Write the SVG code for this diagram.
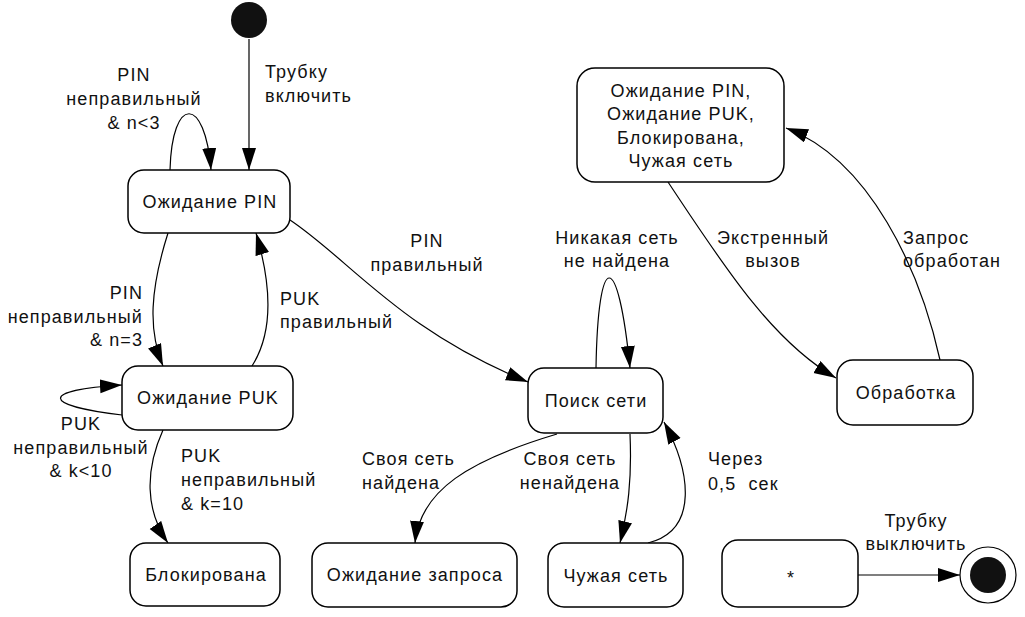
<svg xmlns="http://www.w3.org/2000/svg" width="1025" height="617" viewBox="0 0 1025 617">
<style>
.n{fill:#fff;stroke:#000;stroke-width:1.5}
.t{font-family:"Liberation Sans",Arial,sans-serif;font-size:18px;letter-spacing:1.1px;fill:#111}
.c{text-anchor:middle}
.r{text-anchor:end}
.e{fill:none;stroke:#000;stroke-width:1.2}
</style>
<defs>
<marker id="a" markerUnits="userSpaceOnUse" markerWidth="24" markerHeight="16" refX="22" refY="7" orient="auto">
<path d="M0,0 L22,7 L0,14 z" fill="#000"/>
</marker>
</defs>
<rect width="1025" height="617" fill="#fff"/>
<g id="connectors">
<path class="e" d="M249,39 L249,170" marker-end="url(#a)"/>
<path class="e" d="M170,170 C172,95 205,95 211,170" marker-end="url(#a)"/>
<path class="e" d="M168,233 C150,290 148,330 163,366" marker-end="url(#a)"/>
<path class="e" d="M252,366 C275,330 270,280 256,233" marker-end="url(#a)"/>
<path class="e" d="M122,415 C40,405 40,390 122,385" marker-end="url(#a)"/>
<path class="e" d="M163,430 C145,470 145,510 168,543" marker-end="url(#a)"/>
<path class="e" d="M290,220 C350,260 400,330 528,382" marker-end="url(#a)"/>
<path class="e" d="M596,368 C598,248 618,248 630,368" marker-end="url(#a)"/>
<path class="e" d="M557,434 C470,460 420,490 415,543" marker-end="url(#a)"/>
<path class="e" d="M630,434 C632,480 628,510 620,543" marker-end="url(#a)"/>
<path class="e" d="M648,543 C700,530 690,470 664,422" marker-end="url(#a)"/>
<path class="e" d="M668,182 C720,260 770,340 836,378" marker-end="url(#a)"/>
<path class="e" d="M940,360 C920,270 870,160 786,128" marker-end="url(#a)"/>
<path class="e" d="M858,575 L960,575" marker-end="url(#a)"/>
</g>
<g id="labels" class="t">
<text x="265" y="78">Трубку</text>
<text x="265" y="102">включить</text>
<text class="c" x="134" y="81">PIN</text>
<text class="c" x="134" y="105">неправильный</text>
<text class="c" x="134" y="129">&amp; n&lt;3</text>
<text class="c" x="427" y="247">PIN</text>
<text class="c" x="427" y="271">правильный</text>
<text class="r" x="143" y="299">PIN</text>
<text class="r" x="143" y="323">неправильный</text>
<text class="r" x="143" y="346">&amp; n=3</text>
<text x="280" y="305">PUK</text>
<text x="280" y="328">правильный</text>
<text class="c" x="81" y="430">PUK</text>
<text class="c" x="81" y="454">неправильный</text>
<text class="c" x="81" y="477">&amp; k&lt;10</text>
<text x="181" y="462">PUK</text>
<text x="181" y="486">неправильный</text>
<text x="181" y="510">&amp; k=10</text>
<text x="362" y="465">Своя сеть</text>
<text x="362" y="489">найдена</text>
<text class="c" x="570" y="465">Своя сеть</text>
<text class="c" x="570" y="489">ненайдена</text>
<text class="c" x="617" y="244">Никакая сеть</text>
<text class="c" x="617" y="267">не найдена</text>
<text x="708" y="465">Через</text>
<text x="708" y="490" xml:space="preserve">0,5  сек</text>
<text class="c" x="916" y="527">Трубку</text>
<text class="c" x="916" y="550">выключить</text>
<text class="c" x="773" y="244">Экстренный</text>
<text class="c" x="773" y="267">вызов</text>
<text x="903" y="244">Запрос</text>
<text x="903" y="267">обработан</text>
</g>
<g id="initial"><circle cx="249" cy="20" r="18" fill="#111"/></g>
<g id="pin"><rect class="n" x="128" y="170" width="162" height="63" rx="16"/><text class="t c" x="210" y="208">Ожидание PIN</text></g>
<g id="puk"><rect class="n" x="122" y="366" width="171" height="64" rx="16"/><text class="t c" x="208" y="404">Ожидание PUK</text></g>
<g id="blocked"><rect class="n" x="130" y="543" width="150" height="63" rx="16"/><text class="t c" x="206" y="581">Блокирована</text></g>
<g id="waitreq"><rect class="n" x="312" y="543" width="205" height="64" rx="16"/><text class="t c" x="415" y="581">Ожидание запроса</text></g>
<g id="foreign"><rect class="n" x="548" y="543" width="135" height="64" rx="16"/><text class="t c" x="616" y="582">Чужая сеть</text></g>
<g id="search"><rect class="n" x="528" y="368" width="135" height="65" rx="16"/><text class="t c" x="596" y="407">Поиск сети</text></g>
<g id="group"><rect class="n" x="577" y="68" width="207" height="114" rx="18"/>
<text class="t c" x="681" y="97">Ожидание PIN,</text>
<text class="t c" x="681" y="120">Ожидание PUK,</text>
<text class="t c" x="681" y="144">Блокирована,</text>
<text class="t c" x="681" y="167">Чужая сеть</text></g>
<g id="processing"><rect class="n" x="837" y="360" width="136" height="65" rx="16"/><text class="t c" x="906" y="399">Обработка</text></g>
<g id="any"><rect class="n" x="722" y="540" width="136" height="67" rx="16"/><text class="t c" x="791" y="584">*</text></g>
<g id="final"><circle cx="988" cy="575" r="28" fill="#fff" stroke="#000" stroke-width="1.2"/><circle cx="988" cy="575" r="18" fill="#111"/></g>
</svg>
